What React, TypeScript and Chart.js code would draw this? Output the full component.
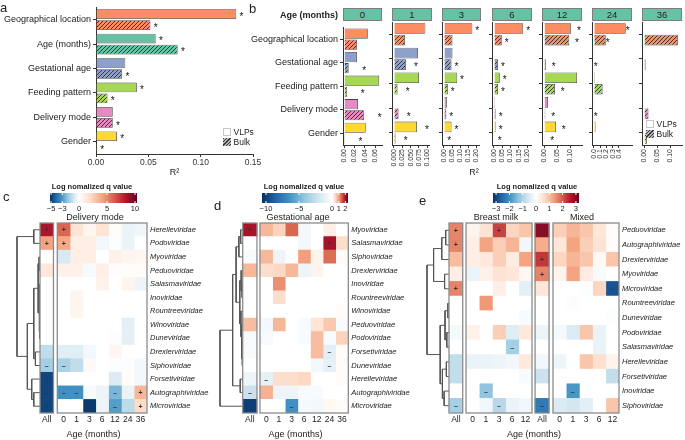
import React, { useEffect, useRef } from "react";
import { Chart, registerables } from "chart.js";
Chart.register(...registerables);

const FONT = "'Liberation Sans', Arial, Helvetica, sans-serif";
Chart.defaults.font.family = FONT;
Chart.defaults.color = "#222";

// ---------------- Panel a ----------------
const aCategories = ["Geographical location", "Age (months)", "Gestational age", "Feeding pattern", "Delivery mode", "Gender"];
const aVLPs = [0.134, 0.057, 0.028, 0.039, 0.016, 0.020];
const aBulk = [0.052, 0.078, 0.025, 0.011, 0.016, 0.001];
const aVLPsStar = [1, 1, 0, 1, 0, 1];
const aBulkStar = [1, 1, 1, 1, 1, 1];
const aTicks = [0, 0.05, 0.1, 0.15];
const aTickLabels = ["0.00", "0.05", "0.10", "0.15"];
const aColors = ["#FC8D62", "#66C2A5", "#8DA0CB", "#A6D854", "#E78AC3", "#FFD92F"];

// ---------------- Panel b ----------------
const bAges = ["0", "1", "3", "6", "12", "24", "36"];
const bCategories = ["Geographical location", "Gestational age", "Feeding pattern", "Delivery mode", "Gender"];
const bColors = ["#FC8D62", "#8DA0CB", "#A6D854", "#E78AC3", "#FFD92F"];
const bVLPs = [
  [0.046, 0.025, 0.068, 0.027, 0.042],
  [0.094, 0.072, 0.075, 0, 0.069],
  [0.176, 0.053, 0.082, 0.018, 0.047],
  [0.176, 0.003, 0.035, 0.006, 0.010],
  [0.104, 0, 0.127, 0.015, 0.046],
  [0.51, 0.005, 0.02, 0.005, 0.027],
  [null, null, null, null, null],
];
const bBulk = [
  [0.025, 0.009, 0.006, 0.039, 0.002],
  [0.033, 0.036, 0.011, 0.014, 0.005],
  [0.053, 0.047, 0.024, 0.015, 0.003],
  [0.047, 0.024, 0.024, 0.010, 0.004],
  [0.097, 0.007, 0.042, 0.005, 0.001],
  [0.19, 0, 0.14, 0, 0],
  [0.13, 0.006, 0, 0.017, 0.011],
];
const bVLPsStar = [
  [0, 0, 0, 0, 0],
  [0, 0, 0, 0, 1],
  [1, 0, 1, 0, 1],
  [1, 0, 1, 0, 1],
  [1, 0, 0, 0, 1],
  [1, 0, 0, 0, 0],
  [0, 0, 0, 0, 0],
];
const bBulkStar = [
  [0, 1, 1, 1, 1],
  [0, 1, 1, 1, 1],
  [0, 1, 1, 1, 1],
  [1, 1, 1, 1, 1],
  [1, 1, 1, 1, 1],
  [1, 1, 0, 1, 0],
  [0, 0, 0, 0, 0],
];
const bTicks = [
  [0, 0.02, 0.04, 0.06],
  [0, 0.025, 0.05, 0.075, 0.1],
  [0, 0.05, 0.1, 0.15, 0.2],
  [0, 0.05, 0.1, 0.15, 0.2],
  [0, 0.05, 0.1],
  [0, 0.1, 0.2, 0.3, 0.4],
  [0, 0.05, 0.1],
];
const bTickLabels = [
  ["0.00", "0.02", "0.04", "0.06"],
  ["0.000", "0.025", "0.050", "0.075", "0.100"],
  ["0.00", "0.05", "0.10", "0.15", "0.20"],
  ["0.00", "0.05", "0.10", "0.15", "0.20"],
  ["0.00", "0.05", "0.10"],
  ["0.0", "0.1", "0.2", "0.3", "0.4"],
  ["0.00", "0.05", "0.10"],
];
const bMin = [-0.002, -0.0056, -0.012, -0.012, -0.008, -0.03, -0.008];
const bMax = [0.0735, 0.105, 0.218, 0.224, 0.146, 0.61, 0.146];

// ---------------- Panel c ----------------
const cRows = ["Herelleviridae", "Podoviridae", "Myoviridae", "Peduoviridae", "Salasmaviridae", "Inoviridae", "Rountreeviridae", "Winoviridae", "Duneviridae", "Drexlerviridae", "Siphoviridae", "Forsetiviridae", "Autographiviridae", "Microviridae"];
const cCols = ["All", "0", "1", "3", "6", "12", "24", "36"];
const cValues = [
  [8.5, 6.0, 1.5, 0.6, 1.5, 0.2, -0.5, -0.35],
  [4.2, 4.0, 1.0, 1.0, -0.3, -0.1, -0.5, 0],
  [0, -0.9, 1.0, 1.0, 0, 0.8, 0.6, 0.5],
  [1.3, 0.8, 0.8, -0.15, 0.9, 0.1, 0.2, 0.2],
  [0, 0, 0, 0, 0.7, 0, 0.6, -0.4],
  [0, 0, 0.6, 0, 0, 0, 0, 0],
  [0, 0, 0.6, 0, 0, 0, 0, 0],
  [0, 0, 0, 0, 0, 0, -0.6, 0],
  [0, 0, 0, 0, 0, -0.1, -0.6, 0],
  [-1.3, -0.7, -0.7, -0.3, 0, 0.5, 0, 0],
  [-1.8, -1.7, -1.3, 0.3, 0, -0.1, -0.1, -0.3],
  [-4.8, 0, 0, 0, 0, -0.8, 0.2, -0.3],
  [-4.8, -3.2, -3.2, -0.2, -0.4, -2.4, -0.5, 3.5],
  [-4.8, 0, 0, -5.0, -0.4, -2.9, -1.4, 2.0],
];
const cSigns = ["++......", "++......", "........", "........", "........", "........", "........", "........", "........", "........", "--......", "-.......", "---..-.+", "-..-.-.+"];
const cLimits = [-5.2, 10.36];
const cLegendTicks = [-5, -3, 0, 5, 10];
const cTree: any = [
  [0, 1, 0.27],
  [
    [[[2, 3, 0.04], [[4, [5, 6, 0.01], 0.02], [7, 8, 0.02], 0.03], 0.08], [9, 10, 0.2], 0.27],
    [11, [12, 13, 0.27], 0.36],
    0.55,
  ],
  1.0,
];

// ---------------- Panel d ----------------
const dRows = ["Myoviridae", "Salasmaviridae", "Siphoviridae", "Drexlerviridae", "Inoviridae", "Rountreeviridae", "Winoviridae", "Peduoviridae", "Podoviridae", "Forsetiviridae", "Duneviridae", "Herelleviridae", "Autographiviridae", "Microviridae"];
const dCols = ["All", "0", "1", "3", "6", "12", "24", "36"];
const dValues = [
  [2.0, 0.8, 0.55, 1.4, -0.6, 0, 0.2, 0],
  [0, 0, 0, 0, -0.6, 0, 2.0, 0.45],
  [-0.3, 0.8, -0.8, 0, 1.0, 0.15, 1.35, 0.05],
  [0.8, 0.45, 0.5, 0.8, -0.8, 0.15, 0, 0],
  [0, 0, 1.1, 0, 0, 0, 0, 0],
  [0, 0, 0.45, 0, 0, 0, 0, 0],
  [0, 0, 0, 0, 0, 0, 0, 0.05],
  [0.75, -0.6, 0.8, 0, -0.3, 0.35, 0.65, -0.3],
  [-0.4, -0.4, 0, 0, -0.3, 0.75, -0.3, 0.55],
  [-0.3, 0, 0, 0, 0, 0.75, -1.3, 0.05],
  [0, 0, 0, 0, 0, -0.6, -1.2, 0.05],
  [-0.8, -1.2, 0.45, 0.45, 0.5, 0, 0, 0.05],
  [-2.3, 0.85, -0.8, -0.8, -0.3, -0.3, 0, 0],
  [-10.0, 0, 0, -6.5, -0.5, -0.6, 0.1, 0.05],
];
const dSigns = ["+.......", "......+.", "........", "........", "........", "........", "........", "........", "........", "......-.", "......-.", ".-......", "-.......", "-..-...."];
const dLimits = [-10.6, 2.4];
const dLegendTicks = [-10, -5, 0, 1, 2];
const dTree: any = [
  [
    [
      [[0, 1, 0.1], 2, 0.18],
      [[3, [4, 5, 0.04], 0.08], [6, [7, [8, [9, 10, 0.03], 0.05], 0.07], 0.09], 0.14],
      0.3,
    ],
    [11, 12, 0.12],
    0.45,
  ],
  13,
  1.0,
];

// ---------------- Panel e ----------------
const eRows = ["Peduoviridae", "Autographiviridae", "Drexlerviridae", "Myoviridae", "Microviridae", "Rountreeviridae", "Duneviridae", "Podoviridae", "Salasmaviridae", "Herelleviridae", "Forsetiviridae", "Inoviridae", "Siphoviridae"];
const eGroups = ["Breast milk", "Mixed"];
const eCols = ["All", "0", "1", "3", "6", "12", "All", "0", "1", "3", "6", "12"];
const eValues = [
  [1.6, 0.2, 0.5, 2.2, 0.7, 0.9, 2.9, 0.8, 1.1, 0.9, 0.45, 0.05],
  [1.6, 0.3, 1.3, 0.8, 1.1, -0.2, 1.2, 0.45, 1.3, 0.8, 0.5, 0.05],
  [1.0, 0.3, 0.4, 0.8, 0.35, 1.3, 2.3, 0.7, 1.1, 0.9, 0.1, 0.9],
  [0.3, -0.3, 0.25, 0.5, 0.45, 0.15, 1.6, 0.2, 1.3, 0.35, -0.1, 0],
  [1.6, 0, 0, 0.3, 0, -0.4, 0.45, 0, 0, -0.05, 0.7, -2.8],
  [0, 0, 1.4, 0, 0, 0, 0, 0, 0.05, 0, 0, 0],
  [0, 0, 0, 0, 0, -0.1, 0, 0, 0, 0, 0, -0.05],
  [-0.15, 0.25, 0, 0.8, -0.45, 0.4, -0.25, -0.15, -0.5, 0.9, -0.3, 0],
  [0, 0, 0, 0, -1.1, 0, 0, 0, 0, 0, -0.3, 0],
  [-0.8, -0.3, -0.3, -0.25, -0.2, 0.4, -0.2, -0.25, 0, 0.9, 0.55, 0.2],
  [-0.8, 0, 0, 0, 0, -0.1, -0.7, 0, 0, 0, 0, -0.8],
  [0, 0, -1.3, 0, 0, 0, 0, 0, -1.9, 0, 0, 0],
  [-1.1, 0, -0.2, -0.9, -0.3, -0.2, -2.3, -0.5, -0.6, -0.4, 0, 0.9],
];
const eSigns = ["+..+..+.....", "+...........", "......+.....", "......+.....", "+..........-", "............", "............", "............", "....-.......", "............", "............", "..-.....-...", "-..-..-....."];
const eLimits = [-3.23, 3.23];
const eLegendTicks = [-3, -2, -1, 0, 1, 2, 3];
const eTree: any = [
  [[[0, 1, 0.15], 2, 0.33], [3, 4, 0.2], 0.7],
  [[[5, 6, 0.05], [7, 8, 0.1], 0.18], [[9, 10, 0.12], [11, 12, 0.22], 0.3], 0.4],
  1.0,
];

// ---------------- helpers ----------------
const NEG = ["#ffffff", "#d1e5f0", "#92c5de", "#4393c3", "#2166ac", "#053061"];
const POS = ["#ffffff", "#fddbc7", "#f4a582", "#d6604d", "#b2182b", "#67001f"];
function hexRgb(h: string) {
  const n = parseInt(h.slice(1), 16);
  return [(n >> 16) & 255, (n >> 8) & 255, n & 255];
}
function heatColor(v: number, lo: number, hi: number) {
  const stops = v < 0 ? NEG : POS;
  let t = v < 0 ? v / lo : v / hi;
  t = Math.max(0, Math.min(1, t));
  const p = t * (stops.length - 1);
  const i = Math.min(Math.floor(p), stops.length - 2);
  const f = p - i;
  const a = hexRgb(stops[i]);
  const b = hexRgb(stops[i + 1]);
  const m = (k: number) => Math.round(a[k] + (b[k] - a[k]) * f);
  return `rgb(${m(0)},${m(1)},${m(2)})`;
}
function hatch(color: string) {
  const c = document.createElement("canvas");
  const s = 4;
  c.width = s;
  c.height = s;
  const g = c.getContext("2d")!;
  g.fillStyle = color;
  g.fillRect(0, 0, s, s);
  g.strokeStyle = "#2a2a2a";
  g.lineWidth = 0.9;
  g.beginPath();
  g.moveTo(0, s);
  g.lineTo(s, 0);
  g.moveTo(-1, 1);
  g.lineTo(1, -1);
  g.moveTo(s - 1, s + 1);
  g.lineTo(s + 1, s - 1);
  g.stroke();
  return g.createPattern(c, "repeat");
}
const legendLabel = (v: number) => (v < 0 ? "\u2212" + Math.abs(v) : String(v));

function mkStars(flags: number[][], offset: number) {
  return {
    id: "stars",
    afterDatasetsDraw(chart: any) {
      const ctx = chart.ctx;
      const xs = chart.scales.x;
      ctx.save();
      ctx.fillStyle = "#111";
      ctx.font = `10px ${FONT}`;
      ctx.textAlign = "center";
      ctx.textBaseline = "middle";
      chart.data.datasets.forEach((ds: any, di: number) => {
        const meta = chart.getDatasetMeta(di);
        meta.data.forEach((el: any, i: number) => {
          if (!flags[di] || !flags[di][i]) return;
          const v = Number(ds.data[i]) || 0;
          ctx.fillText("*", xs.getPixelForValue(v + offset), el.y + 3);
        });
      });
      ctx.restore();
    },
  };
}

function barChart(canvas: HTMLCanvasElement, o: any) {
  return new Chart(canvas, {
    type: "bar",
    data: {
      labels: o.labels,
      datasets: [
        { label: "VLPs", data: o.vlp, backgroundColor: o.colors, borderColor: "#444", borderWidth: 0.8, categoryPercentage: o.cat, barPercentage: o.bar },
        { label: "Bulk", data: o.bulk, backgroundColor: o.colors.map((c: string) => hatch(c)), borderColor: "#444", borderWidth: 0.8, categoryPercentage: o.cat, barPercentage: o.bar },
      ],
    } as any,
    options: {
      indexAxis: "y",
      animation: false,
      responsive: false,
      events: [],
      layout: { padding: o.padding },
      plugins: { legend: { display: false }, tooltip: { enabled: false } },
      scales: {
        x: {
          type: "linear",
          min: o.min,
          max: o.max,
          afterBuildTicks: (s: any) => {
            s.ticks = o.ticks.map((v: number) => ({ value: v }));
          },
          afterFit: (s: any) => {
            s.height = o.xHeight;
          },
          ticks: {
            autoSkip: false,
            callback: (_v: any, i: number) => o.tickLabels[i],
            font: { size: o.tickSize },
            color: "#333",
            padding: 1,
            minRotation: o.rotate,
            maxRotation: o.rotate,
          },
          grid: { drawOnChartArea: false, tickLength: 3, color: "#333" },
          border: { color: "#333", width: 1 },
          title: o.title ? { display: true, text: o.title, font: { size: 9 }, padding: 0, color: "#222" } : { display: false },
        },
        y: {
          afterFit: (s: any) => {
            s.width = o.yWidth;
          },
          ticks: { display: o.showY, font: { size: 9 }, color: "#222", padding: 2 },
          grid: { drawOnChartArea: false, tickLength: 3, color: "#333", offset: false },
          border: { color: "#333", width: 1 },
        },
      },
    } as any,
    plugins: [mkStars([o.starV, o.starB], o.offset)],
  });
}

function heatmapChart(canvas: HTMLCanvasElement, o: any) {
  const cols = o.cols; // {l, r, label}
  const datasets = cols.map((c: any, ci: number) => ({
    data: o.rows.map(() => [c.l, c.r]),
    backgroundColor: o.rows.map((_: any, r: number) => heatColor(o.values[r][ci], o.limits[0], o.limits[1])),
    borderWidth: 0,
    grouped: false,
    categoryPercentage: 1,
    barPercentage: 1,
  }));
  const deco = {
    id: "deco",
    afterDatasetsDraw(chart: any) {
      const ctx = chart.ctx;
      const xs = chart.scales.x;
      const a = chart.chartArea;
      ctx.save();
      ctx.fillStyle = "#333";
      ctx.font = `bold 7px ${FONT}`;
      ctx.textAlign = "center";
      ctx.textBaseline = "middle";
      chart.data.datasets.forEach((_ds: any, ci: number) => {
        const meta = chart.getDatasetMeta(ci);
        meta.data.forEach((el: any, r: number) => {
          const ch = o.signs[r][ci];
          if (ch === "+" || ch === "-") {
            const cx = (el.x + el.base) / 2;
            ctx.fillText(ch === "+" ? "+" : "\u2013", cx, el.y + 0.5);
          }
        });
      });
      ctx.strokeStyle = "#8c8c8c";
      ctx.lineWidth = 1.3;
      o.blocks.forEach((b: number[]) => {
        const x0 = xs.getPixelForValue(b[0]);
        const x1 = xs.getPixelForValue(b[1]);
        ctx.strokeRect(x0, a.top, x1 - x0, a.bottom - a.top);
      });
      ctx.restore();
    },
  };
  return new Chart(canvas, {
    type: "bar",
    data: { labels: o.rows, datasets } as any,
    options: {
      indexAxis: "y",
      animation: false,
      responsive: false,
      events: [],
      layout: { padding: o.padding },
      plugins: { legend: { display: false }, tooltip: { enabled: false } },
      scales: {
        x: {
          type: "linear",
          min: o.min,
          max: o.max,
          afterBuildTicks: (s: any) => {
            s.ticks = cols.map((c: any) => ({ value: (c.l + c.r) / 2 }));
          },
          afterFit: (s: any) => {
            s.height = o.xHeight;
          },
          ticks: { autoSkip: false, maxRotation: 0, callback: (_v: any, i: number) => cols[i].label, font: { size: 8.5 }, color: "#222", padding: 2 },
          grid: { display: false, drawTicks: false, tickLength: 0 },
          border: { display: false },
          title: { display: true, text: "Age (months)", font: { size: 9 }, color: "#222", padding: { top: 1, bottom: 0 } },
        },
        y: {
          position: "right",
          afterFit: (s: any) => {
            s.width = o.yWidth;
          },
          ticks: { font: { size: 7.5, style: "italic" }, color: "#222", padding: 3 },
          grid: { display: false, drawTicks: false, tickLength: 0 },
          border: { display: false },
        },
      },
    } as any,
    plugins: [deco],
  });
}

function dendroPoints(tree: any) {
  const pts: any[] = [];
  const walk = (n: any): { y: number; h: number } => {
    if (typeof n === "number") return { y: n, h: 0 };
    const a = walk(n[0]);
    const b = walk(n[1]);
    const h = n[2];
    pts.push({ x: a.h, y: a.y }, { x: h, y: a.y }, { x: h, y: b.y }, { x: b.h, y: b.y }, { x: null, y: null });
    return { y: (a.y + b.y) / 2, h };
  };
  walk(tree);
  return pts;
}

function dendroChart(canvas: HTMLCanvasElement, tree: any, n: number) {
  return new Chart(canvas, {
    type: "scatter",
    data: {
      datasets: [{ data: dendroPoints(tree), showLine: true, spanGaps: false, borderColor: "#555", borderWidth: 1, pointRadius: 0, clip: false }],
    } as any,
    options: {
      animation: false,
      responsive: false,
      events: [],
      layout: { padding: { left: 2, right: 0, top: 0, bottom: 0 } },
      plugins: { legend: { display: false }, tooltip: { enabled: false } },
      scales: {
        x: { type: "linear", min: 0, max: 1, reverse: true, display: false },
        y: { type: "linear", min: -0.5, max: n - 0.5, reverse: true, display: false },
      },
    } as any,
  });
}

function legendChart(canvas: HTMLCanvasElement, limits: number[], ticks: number[], padding: any) {
  const grad = {
    id: "grad",
    beforeDatasetsDraw(chart: any) {
      const ctx = chart.ctx;
      const a = chart.chartArea;
      const g = ctx.createLinearGradient(a.left, 0, a.right, 0);
      const N = 60;
      for (let i = 0; i <= N; i++) {
        const v = limits[0] + ((limits[1] - limits[0]) * i) / N;
        g.addColorStop(i / N, heatColor(v, limits[0], limits[1]));
      }
      ctx.save();
      ctx.fillStyle = g;
      ctx.fillRect(a.left, a.top, a.right - a.left, a.bottom - a.top);
      const xs = chart.scales.x;
      ctx.strokeStyle = "#fff";
      ctx.lineWidth = 1;
      xs.ticks.forEach((t: any) => {
        const x = xs.getPixelForValue(t.value);
        ctx.beginPath();
        ctx.moveTo(x, a.top);
        ctx.lineTo(x, a.top + 2);
        ctx.moveTo(x, a.bottom - 2);
        ctx.lineTo(x, a.bottom);
        ctx.stroke();
      });
      ctx.restore();
    },
  };
  return new Chart(canvas, {
    type: "scatter",
    data: { datasets: [{ data: [] }] } as any,
    options: {
      animation: false,
      responsive: false,
      events: [],
      layout: { padding },
      plugins: { legend: { display: false }, tooltip: { enabled: false } },
      scales: {
        x: {
          type: "linear",
          min: limits[0],
          max: limits[1],
          afterBuildTicks: (s: any) => {
            s.ticks = ticks.map((v) => ({ value: v }));
          },
          afterFit: (s: any) => {
            s.height = 11;
          },
          ticks: { autoSkip: false, maxRotation: 0, callback: (v: any) => legendLabel(Number(v)), font: { size: 7.5 }, color: "#222", padding: 1 },
          grid: { display: false, drawTicks: false, tickLength: 0 },
          border: { display: false },
        },
        y: { display: false, min: 0, max: 1 },
      },
    } as any,
    plugins: [grad],
  });
}

// ---------------- layout ----------------
const FACETS = [
  [343, 382],
  [392, 432],
  [442, 481],
  [492, 532],
  [542, 582],
  [592, 632],
  [642, 682],
];

type CV = { key: string; x: number; y: number; w: number; h: number };
const CANVASES: CV[] = [
  { key: "a", x: 0, y: 0, w: 270, h: 178 },
  ...FACETS.map((f, i) =>
    i === 0 ? { key: "b0", x: 246, y: 20, w: f[1] - 246 + 5, h: 152 } : { key: "b" + i, x: f[0] - 5, y: 20, w: f[1] - f[0] + 10, h: 152 }
  ),
  { key: "cDen", x: 15, y: 223, w: 25, h: 190 },
  { key: "cHeat", x: 30, y: 215, w: 200, h: 225 },
  { key: "cLeg", x: 40, y: 190, w: 112, h: 24 },
  { key: "dDen", x: 218, y: 223, w: 25, h: 190 },
  { key: "dHeat", x: 235, y: 215, w: 210, h: 225 },
  { key: "dLeg", x: 252, y: 190, w: 110, h: 24 },
  { key: "eDen", x: 425, y: 223, w: 24, h: 190 },
  { key: "eHeat", x: 440, y: 215, w: 245, h: 225 },
  { key: "eLeg", x: 483, y: 190, w: 110, h: 24 },
];

function Txt(p: { x: number; y: number; t: string; s: number; b?: boolean; an?: string; it?: boolean }) {
  const tr = p.an === "c" ? "translate(-50%,-50%)" : p.an === "r" ? "translate(-100%,-50%)" : "translate(0,-50%)";
  return (
    <div
      style={{
        position: "absolute",
        left: p.x,
        top: p.y,
        transform: tr,
        fontSize: p.s,
        fontWeight: p.b ? 700 : 400,
        fontStyle: p.it ? "italic" : "normal",
        fontFamily: FONT,
        whiteSpace: "nowrap",
        lineHeight: 1,
        color: "#222",
      }}
    >
      {p.t}
    </div>
  );
}

const hatchCss = "repeating-linear-gradient(135deg, #3a3a3a 0px, #3a3a3a 0.9px, #b5b5b5 0.9px, #b5b5b5 2.4px)";

function LegendBox(p: { x: number; y: number }) {
  return (
    <>
      <div style={{ position: "absolute", left: p.x, top: p.y, width: 8, height: 8, background: "#fff", border: "1px solid #c8c8c8", boxSizing: "border-box" }} />
      <div style={{ position: "absolute", left: p.x, top: p.y + 9.5, width: 8, height: 8, background: hatchCss }} />
      <Txt x={p.x + 10.5} y={p.y + 4} t="VLPs" s={8.5} />
      <Txt x={p.x + 10.5} y={p.y + 13.5} t="Bulk" s={8.5} />
    </>
  );
}

export default function App() {
  const refs = useRef<Record<string, HTMLCanvasElement | null>>({});
  useEffect(() => {
    const charts: Chart[] = [];
    const R = refs.current;
    charts.push(
      barChart(R.a!, {
        labels: aCategories,
        vlp: aVLPs,
        bulk: aBulk,
        colors: aColors,
        cat: 0.9,
        bar: 0.88,
        padding: { left: 0, right: 17, top: 6, bottom: 0 },
        min: 0,
        max: 0.15,
        ticks: aTicks,
        tickLabels: aTickLabels,
        tickSize: 8.5,
        rotate: 0,
        xHeight: 24,
        yWidth: 96,
        showY: true,
        title: "R\u00b2",
        starV: aVLPsStar,
        starB: aBulkStar,
        offset: 0.005,
      })
    );
    FACETS.forEach((_f, i) => {
      charts.push(
        barChart(R["b" + i]!, {
          labels: bCategories,
          vlp: bVLPs[i],
          bulk: bBulk[i],
          colors: bColors,
          cat: 0.94,
          bar: 0.92,
          padding: i === 0 ? { left: 0, right: 5, top: 2, bottom: 0 } : { left: 2, right: 5, top: 2, bottom: 0 },
          min: bMin[i],
          max: bMax[i],
          ticks: bTicks[i],
          tickLabels: bTickLabels[i],
          tickSize: 7,
          rotate: 90,
          xHeight: 27,
          yWidth: i === 0 ? 97 : 3,
          showY: i === 0,
          title: "",
          starV: bVLPsStar[i],
          starB: bBulkStar[i],
          offset: 0.03,
        })
      );
    });

    const gridCols = (labels: string[], allL: number, allR: number, start: number) => {
      const out: any[] = [{ l: allL, r: allR, label: labels[0] }];
      for (let k = 1; k < labels.length; k++) out.push({ l: start + k - 1, r: start + k, label: labels[k] });
      return out;
    };

    charts.push(dendroChart(R.cDen!, cTree, cRows.length));
    charts.push(
      heatmapChart(R.cHeat!, {
        rows: cRows,
        cols: gridCols(cCols, -1.35, -0.3, 0),
        values: cValues,
        signs: cSigns,
        limits: cLimits,
        min: -1.35,
        max: 7,
        blocks: [
          [-1.35, -0.3],
          [0, 7],
        ],
        padding: { left: 10, right: 0, top: 8, bottom: 0 },
        yWidth: 83,
        xHeight: 27,
      })
    );
    charts.push(legendChart(R.cLeg!, cLimits, cLegendTicks, { left: 10, right: 15, top: 3, bottom: 0 }));

    charts.push(dendroChart(R.dDen!, dTree, dRows.length));
    charts.push(
      heatmapChart(R.dHeat!, {
        rows: dRows,
        cols: gridCols(dCols, -1.37, -0.24, 0),
        values: dValues,
        signs: dSigns,
        limits: dLimits,
        min: -1.37,
        max: 7,
        blocks: [
          [-1.37, -0.24],
          [0, 7],
        ],
        padding: { left: 7.7, right: 0, top: 8, bottom: 0 },
        yWidth: 96.7,
        xHeight: 27,
      })
    );
    charts.push(legendChart(R.dLeg!, dLimits, dLegendTicks, { left: 10, right: 14, top: 3, bottom: 0 }));

    const eC: any[] = [];
    eC.push({ l: -1.29, r: -0.25, label: eCols[0] });
    for (let k = 1; k <= 5; k++) eC.push({ l: k - 1, r: k, label: eCols[k] });
    eC.push({ l: 5.23, r: 6.29, label: eCols[6] });
    for (let k = 7; k <= 11; k++) eC.push({ l: 6.59 + (k - 7), r: 6.59 + (k - 6), label: eCols[k] });
    charts.push(dendroChart(R.eDen!, eTree, eRows.length));
    charts.push(
      heatmapChart(R.eHeat!, {
        rows: eRows,
        cols: eC,
        values: eValues,
        signs: eSigns,
        limits: eLimits,
        min: -1.29,
        max: 11.59,
        blocks: [
          [-1.29, -0.25],
          [0, 5],
          [5.23, 6.29],
          [6.59, 11.59],
        ],
        padding: { left: 9, right: 0, top: 8, bottom: 0 },
        yWidth: 66,
        xHeight: 27,
      })
    );
    charts.push(legendChart(R.eLeg!, eLimits, eLegendTicks, { left: 10, right: 14, top: 3, bottom: 0 }));

    return () => charts.forEach((c) => c.destroy());
  }, []);

  return (
    <div style={{ position: "absolute", left: 0, top: 0, width: 685, height: 440, background: "#fff", overflow: "hidden", fontFamily: FONT }}>
      {CANVASES.map((c) => (
        <canvas
          key={c.key}
          ref={(el) => {
            refs.current[c.key] = el;
          }}
          width={c.w}
          height={c.h}
          style={{ position: "absolute", left: c.x, top: c.y, width: c.w, height: c.h }}
        />
      ))}
      {/* strips for panel b */}
      {FACETS.map((f, i) => (
        <div
          key={"s" + i}
          style={{
            position: "absolute",
            left: f[0],
            top: 8,
            width: f[1] - f[0],
            height: 13,
            background: "#66C2A5",
            border: "1px solid #7d7d7d",
            boxSizing: "border-box",
            display: "flex",
            alignItems: "center",
            justifyContent: "center",
            fontSize: 9.5,
            color: "#222",
            fontFamily: FONT,
          }}
        >
          {bAges[i]}
        </div>
      ))}
      <Txt x={0} y={7} t="a" s={13} />
      <Txt x={249} y={8} t="b" s={13} />
      <Txt x={338} y={14.5} t="Age (months)" s={9} b an="r" />
      <Txt x={474} y={172} t={"R\u00b2"} s={9} an="c" />
      <LegendBox x={223} y={128} />
      <LegendBox x={646} y={120} />
      <Txt x={3} y={196} t="c" s={13} />
      <Txt x={214} y={205} t="d" s={13} />
      <Txt x={419} y={200} t="e" s={13} />
      <Txt x={92} y={186.5} t="Log nomalized q value" s={7.5} b an="c" />
      <Txt x={304} y={186.5} t="Log nomalized q value" s={7.5} b an="c" />
      <Txt x={537} y={186.5} t="Log nomalized q value" s={7.5} b an="c" />
      <Txt x={95} y={217} t="Delivery mode" s={9} an="c" />
      <Txt x={298} y={217} t="Gestational age" s={9} an="c" />
      <Txt x={496} y={217} t={eGroups[0]} s={9} an="c" />
      <Txt x={582} y={217} t={eGroups[1]} s={9} an="c" />
    </div>
  );
}
